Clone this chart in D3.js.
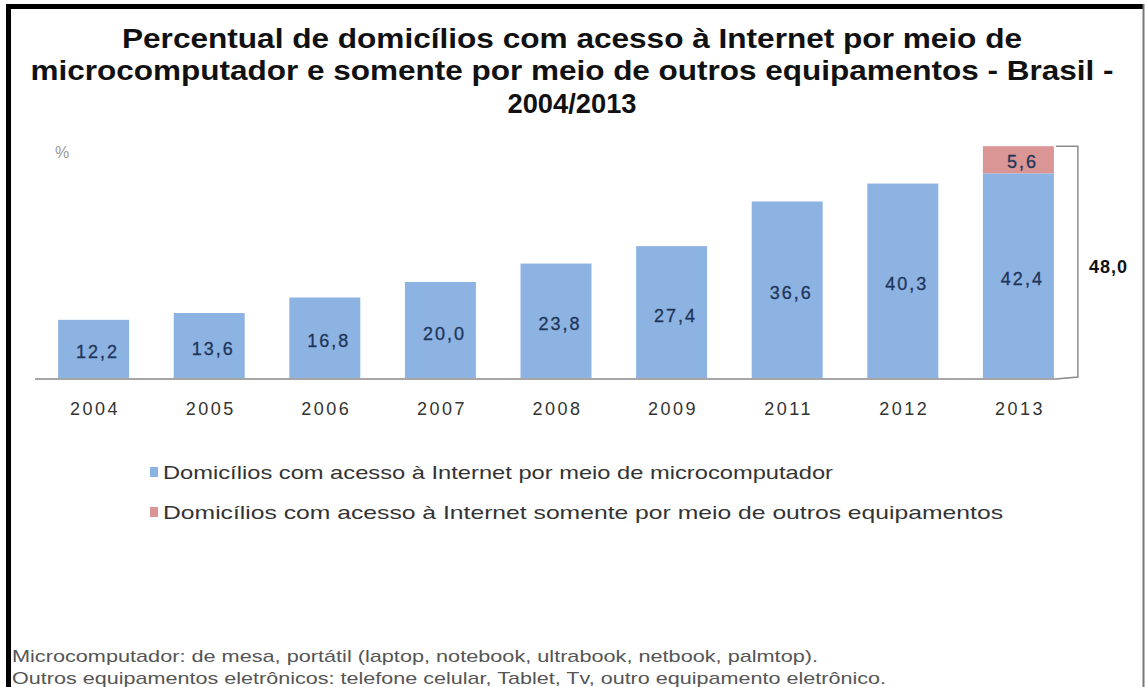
<!DOCTYPE html>
<html>
<head>
<meta charset="utf-8">
<script src="https://cdn.jsdelivr.net/npm/d3@7"></script>
<style>
  html, body { margin: 0; padding: 0; background: #ffffff; }
  svg { display: block; font-family: Arial, "Liberation Sans", sans-serif; }
</style>
</head>
<body>
<svg id="chart" width="1145" height="687"></svg>
<script>
// Survey years (2010 had no PNAD survey)
const years = ["2004", "2005", "2006", "2007", "2008", "2009", "2011", "2012", "2013"];
// Households with Internet access via microcomputer (%)
const microValues = [12.2, 13.6, 16.8, 20.0, 23.8, 27.4, 36.6, 40.3, 42.4];
// Households with Internet access only via other devices (%), measured from 2013 on
const otherValues = [null, null, null, null, null, null, null, null, 5.6];

const titleLines = [
  "Percentual de domicílios com acesso à Internet por meio de",
  "microcomputador e somente por meio de outros equipamentos - Brasil -",
  "2004/2013"
];
const legendLabels = [
  "Domicílios com acesso à Internet por meio de microcomputador",
  "Domicílios com acesso à Internet somente por meio de outros equipamentos"
];
const notes = [
  "Microcomputador: de mesa, portátil (laptop, notebook, ultrabook, netbook, palmtop).",
  "Outros equipamentos eletrônicos: telefone celular, Tablet, Tv, outro equipamento eletrônico."
];
const unitLabel = "%";

const colors = { micro: "#8db3e2", other: "#d99694" };

const svg = d3.select("#chart");
const fmt = v => d3.format(".1f")(v).replace(".", ",");

// Frame
svg.append("rect").attr("x", 0).attr("y", 0).attr("width", 1145).attr("height", 687).attr("fill", "#fff");
svg.append("line").attr("x1", 6).attr("x2", 1144).attr("y1", 6.5).attr("y2", 6.5)
  .attr("stroke", "#000").attr("stroke-width", 5);
svg.append("line").attr("x1", 8.5).attr("x2", 8.5).attr("y1", 4).attr("y2", 687)
  .attr("stroke", "#000").attr("stroke-width", 5);
svg.append("line").attr("x1", 1143.5).attr("x2", 1143.5).attr("y1", 4).attr("y2", 687)
  .attr("stroke", "#777").attr("stroke-width", 2);

// Title
const titleWidths = [900, 1083, 129];
const titleBaselines = [48, 80, 113];
svg.append("g").selectAll("text").data(titleLines).join("text")
  .attr("x", 572).attr("y", (d, i) => titleBaselines[i])
  .attr("text-anchor", "middle")
  .attr("font-size", 28).attr("font-weight", "bold").attr("fill", "#111")
  .attr("textLength", (d, i) => titleWidths[i])
  .attr("lengthAdjust", "spacingAndGlyphs")
  .text(d => d);

// Scales
const x = d3.scaleBand().domain(years).range([35, 1077]).paddingInner(0.386).paddingOuter(0.2);
const y = d3.scaleLinear().domain([0, 50]).range([379, 136.5]);

const plot = svg.append("g");

// Unit label
plot.append("text").attr("x", 55).attr("y", 158)
  .attr("font-size", 16).attr("fill", "#999").text(unitLabel);

// Microcomputer bars
plot.append("g").selectAll("rect").data(years).join("rect")
  .attr("x", d => x(d))
  .attr("width", x.bandwidth())
  .attr("y", (d, i) => y(microValues[i]))
  .attr("height", (d, i) => y(0) - y(microValues[i]))
  .attr("fill", colors.micro);

// Other-devices segments stacked on top
const otherData = years.map((d, i) => ({ year: d, base: microValues[i], v: otherValues[i] }))
  .filter(d => d.v != null);
plot.append("g").selectAll("rect").data(otherData).join("rect")
  .attr("x", d => x(d.year))
  .attr("width", x.bandwidth())
  .attr("y", d => y(d.base + d.v))
  .attr("height", d => y(d.base) - y(d.base + d.v))
  .attr("fill", colors.other);

// Value labels
const labelStyle = sel => sel
  .attr("text-anchor", "middle")
  .attr("dominant-baseline", "central")
  .attr("font-size", 18).attr("letter-spacing", 2)
  .attr("fill", "#1f355a")
  .attr("stroke", "#1f355a").attr("stroke-width", 0.3);

plot.append("g").selectAll("text").data(years).join("text")
  .attr("x", d => x(d) + x.bandwidth() / 2 + 4)
  .attr("y", (d, i) => y(microValues[i] / 2) + 3)
  .text((d, i) => fmt(microValues[i]))
  .call(labelStyle);

plot.append("g").selectAll("text").data(otherData).join("text")
  .attr("x", d => x(d.year) + x.bandwidth() / 2 + 4)
  .attr("y", d => y(d.base + d.v / 2) + 2)
  .text(d => fmt(d.v))
  .call(labelStyle);

// Baseline (category axis)
const last = years[years.length - 1];
const barRight = x(last) + x.bandwidth();
plot.append("line")
  .attr("x1", 35).attr("x2", barRight + 2)
  .attr("y1", y(0)).attr("y2", y(0))
  .attr("stroke", "#a6a6a6").attr("stroke-width", 2);

// Category labels
const xAxis = d3.axisBottom(x).tickSize(0).tickPadding(0);
const axisG = plot.append("g").attr("transform", `translate(0,${y(0) + 30})`).call(xAxis);
axisG.select(".domain").remove();
axisG.selectAll("text")
  .attr("dy", "0.35em")
  .attr("font-size", 18).attr("letter-spacing", 2.5)
  .attr("font-family", "Arial, 'Liberation Sans', sans-serif")
  .attr("fill", "#333")
  .attr("transform", "translate(1.5,0)");

// Total bracket for the last year
const lastIdx = years.length - 1;
const total = microValues[lastIdx] + otherValues[lastIdx];
const bx = barRight + 24;
plot.append("path")
  .attr("d", `M${barRight + 2},${y(total)} H${bx} V${y(0) - 2} L${barRight + 2},${y(0)}`)
  .attr("fill", "none").attr("stroke", "#8c8c8c").attr("stroke-width", 1.5);
plot.append("text")
  .attr("x", bx + 11).attr("y", y(total / 2) + 4)
  .attr("dominant-baseline", "central")
  .attr("font-size", 18).attr("font-weight", "bold").attr("letter-spacing", 1)
  .attr("fill", "#111")
  .text(fmt(total));

// Legend
const legendColors = [colors.micro, colors.other];
const legendWidths = [670, 840];
const legend = svg.append("g").selectAll("g").data(legendLabels).join("g")
  .attr("transform", (d, i) => `translate(150,${472 + i * 40})`);
legend.append("rect").attr("x", 0).attr("y", -5).attr("width", 8).attr("height", 10)
  .attr("fill", (d, i) => legendColors[i]);
legend.append("text").attr("x", 13).attr("y", 0)
  .attr("dominant-baseline", "central")
  .attr("font-size", 19).attr("fill", "#333")
  .attr("textLength", (d, i) => legendWidths[i])
  .attr("lengthAdjust", "spacingAndGlyphs")
  .text(d => d);

// Notes
const noteWidths = [806, 874];
svg.append("g").selectAll("text").data(notes).join("text")
  .attr("x", 12).attr("y", (d, i) => 656 + i * 22)
  .attr("dominant-baseline", "central")
  .attr("font-size", 17).attr("fill", "#555")
  .attr("textLength", (d, i) => noteWidths[i])
  .attr("lengthAdjust", "spacingAndGlyphs")
  .text(d => d);
</script>
</body>
</html>
